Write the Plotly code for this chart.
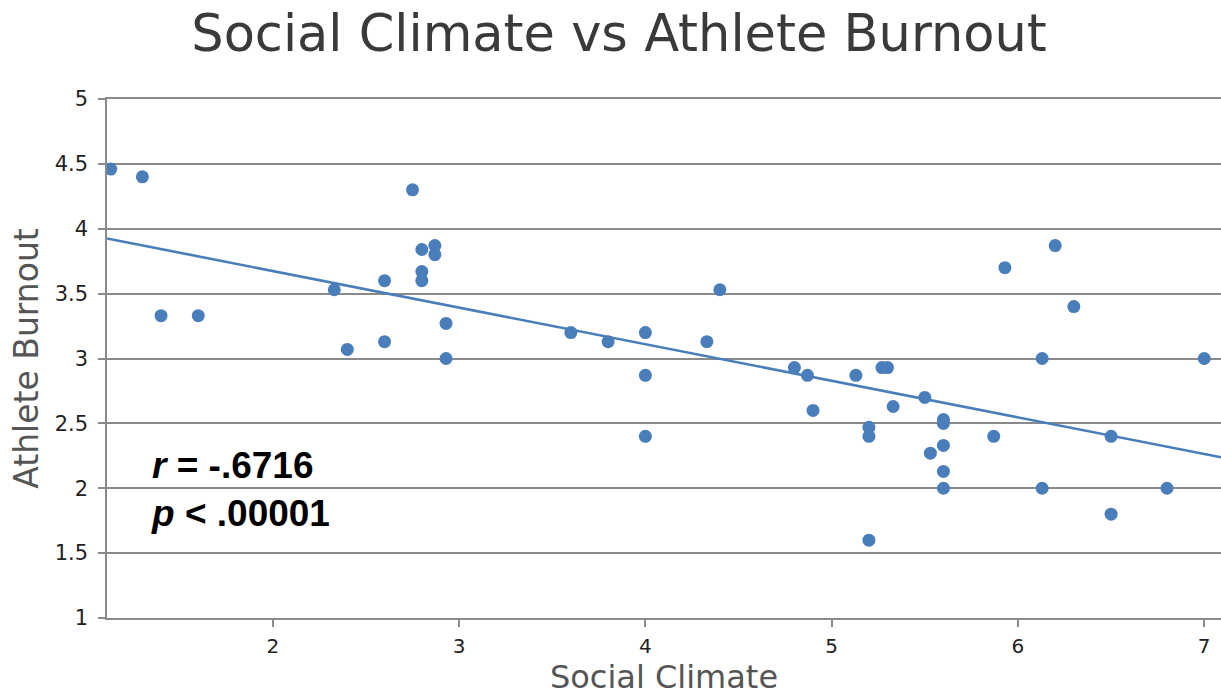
import numpy as np
import plotly.graph_objects as go

# Social climate score and athlete burnout score for each athlete
social_climate = [1.13, 1.3, 1.4, 1.6, 2.33, 2.4, 2.6, 2.6, 2.75, 2.8, 2.8, 2.8,
                  2.87, 2.87, 2.93, 2.93, 3.6, 3.8, 4.0, 4.0, 4.0, 4.33, 4.4,
                  4.8, 4.87, 4.9, 5.13, 5.27, 5.3, 5.93, 6.2, 6.3, 6.13, 7.0,
                  5.5, 5.33, 5.2, 5.2, 5.2, 5.6, 5.6, 5.6, 5.6, 5.6, 5.53,
                  5.87, 6.13, 6.5, 6.5, 6.8]
athlete_burnout = [4.46, 4.4, 3.33, 3.33, 3.53, 3.07, 3.6, 3.13, 4.3, 3.84, 3.67, 3.6,
                   3.87, 3.8, 3.27, 3.0, 3.2, 3.13, 3.2, 2.87, 2.4, 3.13, 3.53,
                   2.93, 2.87, 2.6, 2.87, 2.93, 2.93, 3.7, 3.87, 3.4, 3.0, 3.0,
                   2.7, 2.63, 2.47, 2.4, 1.6, 2.53, 2.5, 2.33, 2.13, 2.0, 2.27,
                   2.4, 2.0, 2.4, 1.8, 2.0]

x_ticks = [2, 3, 4, 5, 6, 7]
y_ticks = [1, 1.5, 2, 2.5, 3, 3.5, 4, 4.5, 5]
x_range = [1.11, 7.09]
y_range = [1, 5]

blue = "#4a7ebb"
grid = "#8a8a8a"
label_font = "DejaVu Sans, sans-serif"

# least-squares trend line over the visible x range
slope, intercept = np.polyfit(social_climate, athlete_burnout, 1)
trend_x = np.array(x_range)
trend_y = slope * trend_x + intercept

fig = go.Figure()
fig.add_trace(go.Scatter(
    x=trend_x, y=trend_y, mode="lines",
    line=dict(color=blue, width=2.6), hoverinfo="skip", showlegend=False,
))
fig.add_trace(go.Scatter(
    x=social_climate, y=athlete_burnout, mode="markers",
    marker=dict(color=blue, size=13, line=dict(width=0)), showlegend=False,
))

fig.add_annotation(
    x=1.335, y=2.35, xref="x", yref="y", xanchor="left", yanchor="top",
    text="<b><i>r</i> = -.6716</b><br><b><i>p</i> &lt; .00001</b>",
    showarrow=False, align="left",
    font=dict(family="Liberation Sans, Arial, sans-serif", size=37, color="#000000"),
)

fig.update_layout(
    width=1221, height=696,
    margin=dict(l=107, r=0, t=99, b=78),
    paper_bgcolor="white", plot_bgcolor="white",
    title=dict(
        text="Social Climate vs Athlete Burnout",
        x=0.507, xanchor="center", y=0.952, yanchor="middle",
        font=dict(family=label_font, size=51, color="#3a3a3a"),
    ),
    xaxis=dict(
        range=x_range, tickvals=x_ticks, showgrid=False, zeroline=False,
        showline=True, mirror=True, linecolor=grid, linewidth=1.5,
        ticks="outside", ticklen=7, tickwidth=1.5, tickcolor=grid,
        ticklabelstandoff=2,
        tickfont=dict(family=label_font, size=20, color="#222222"),
        title=dict(text="Social Climate", standoff=8,
                   font=dict(family=label_font, size=32, color="#555555")),
    ),
    yaxis=dict(
        range=y_range, tickvals=y_ticks, showgrid=True, gridcolor=grid, gridwidth=1.5,
        zeroline=False, showline=True, linecolor=grid, linewidth=1.5,
        ticks="outside", ticklen=7, tickwidth=1.5, tickcolor=grid,
        ticklabelstandoff=6,
        tickfont=dict(family=label_font, size=21, color="#222222"),
        title=dict(text="Athlete Burnout", standoff=6,
                   font=dict(family=label_font, size=33, color="#555555")),
    ),
)

fig.write_html("out.html")
